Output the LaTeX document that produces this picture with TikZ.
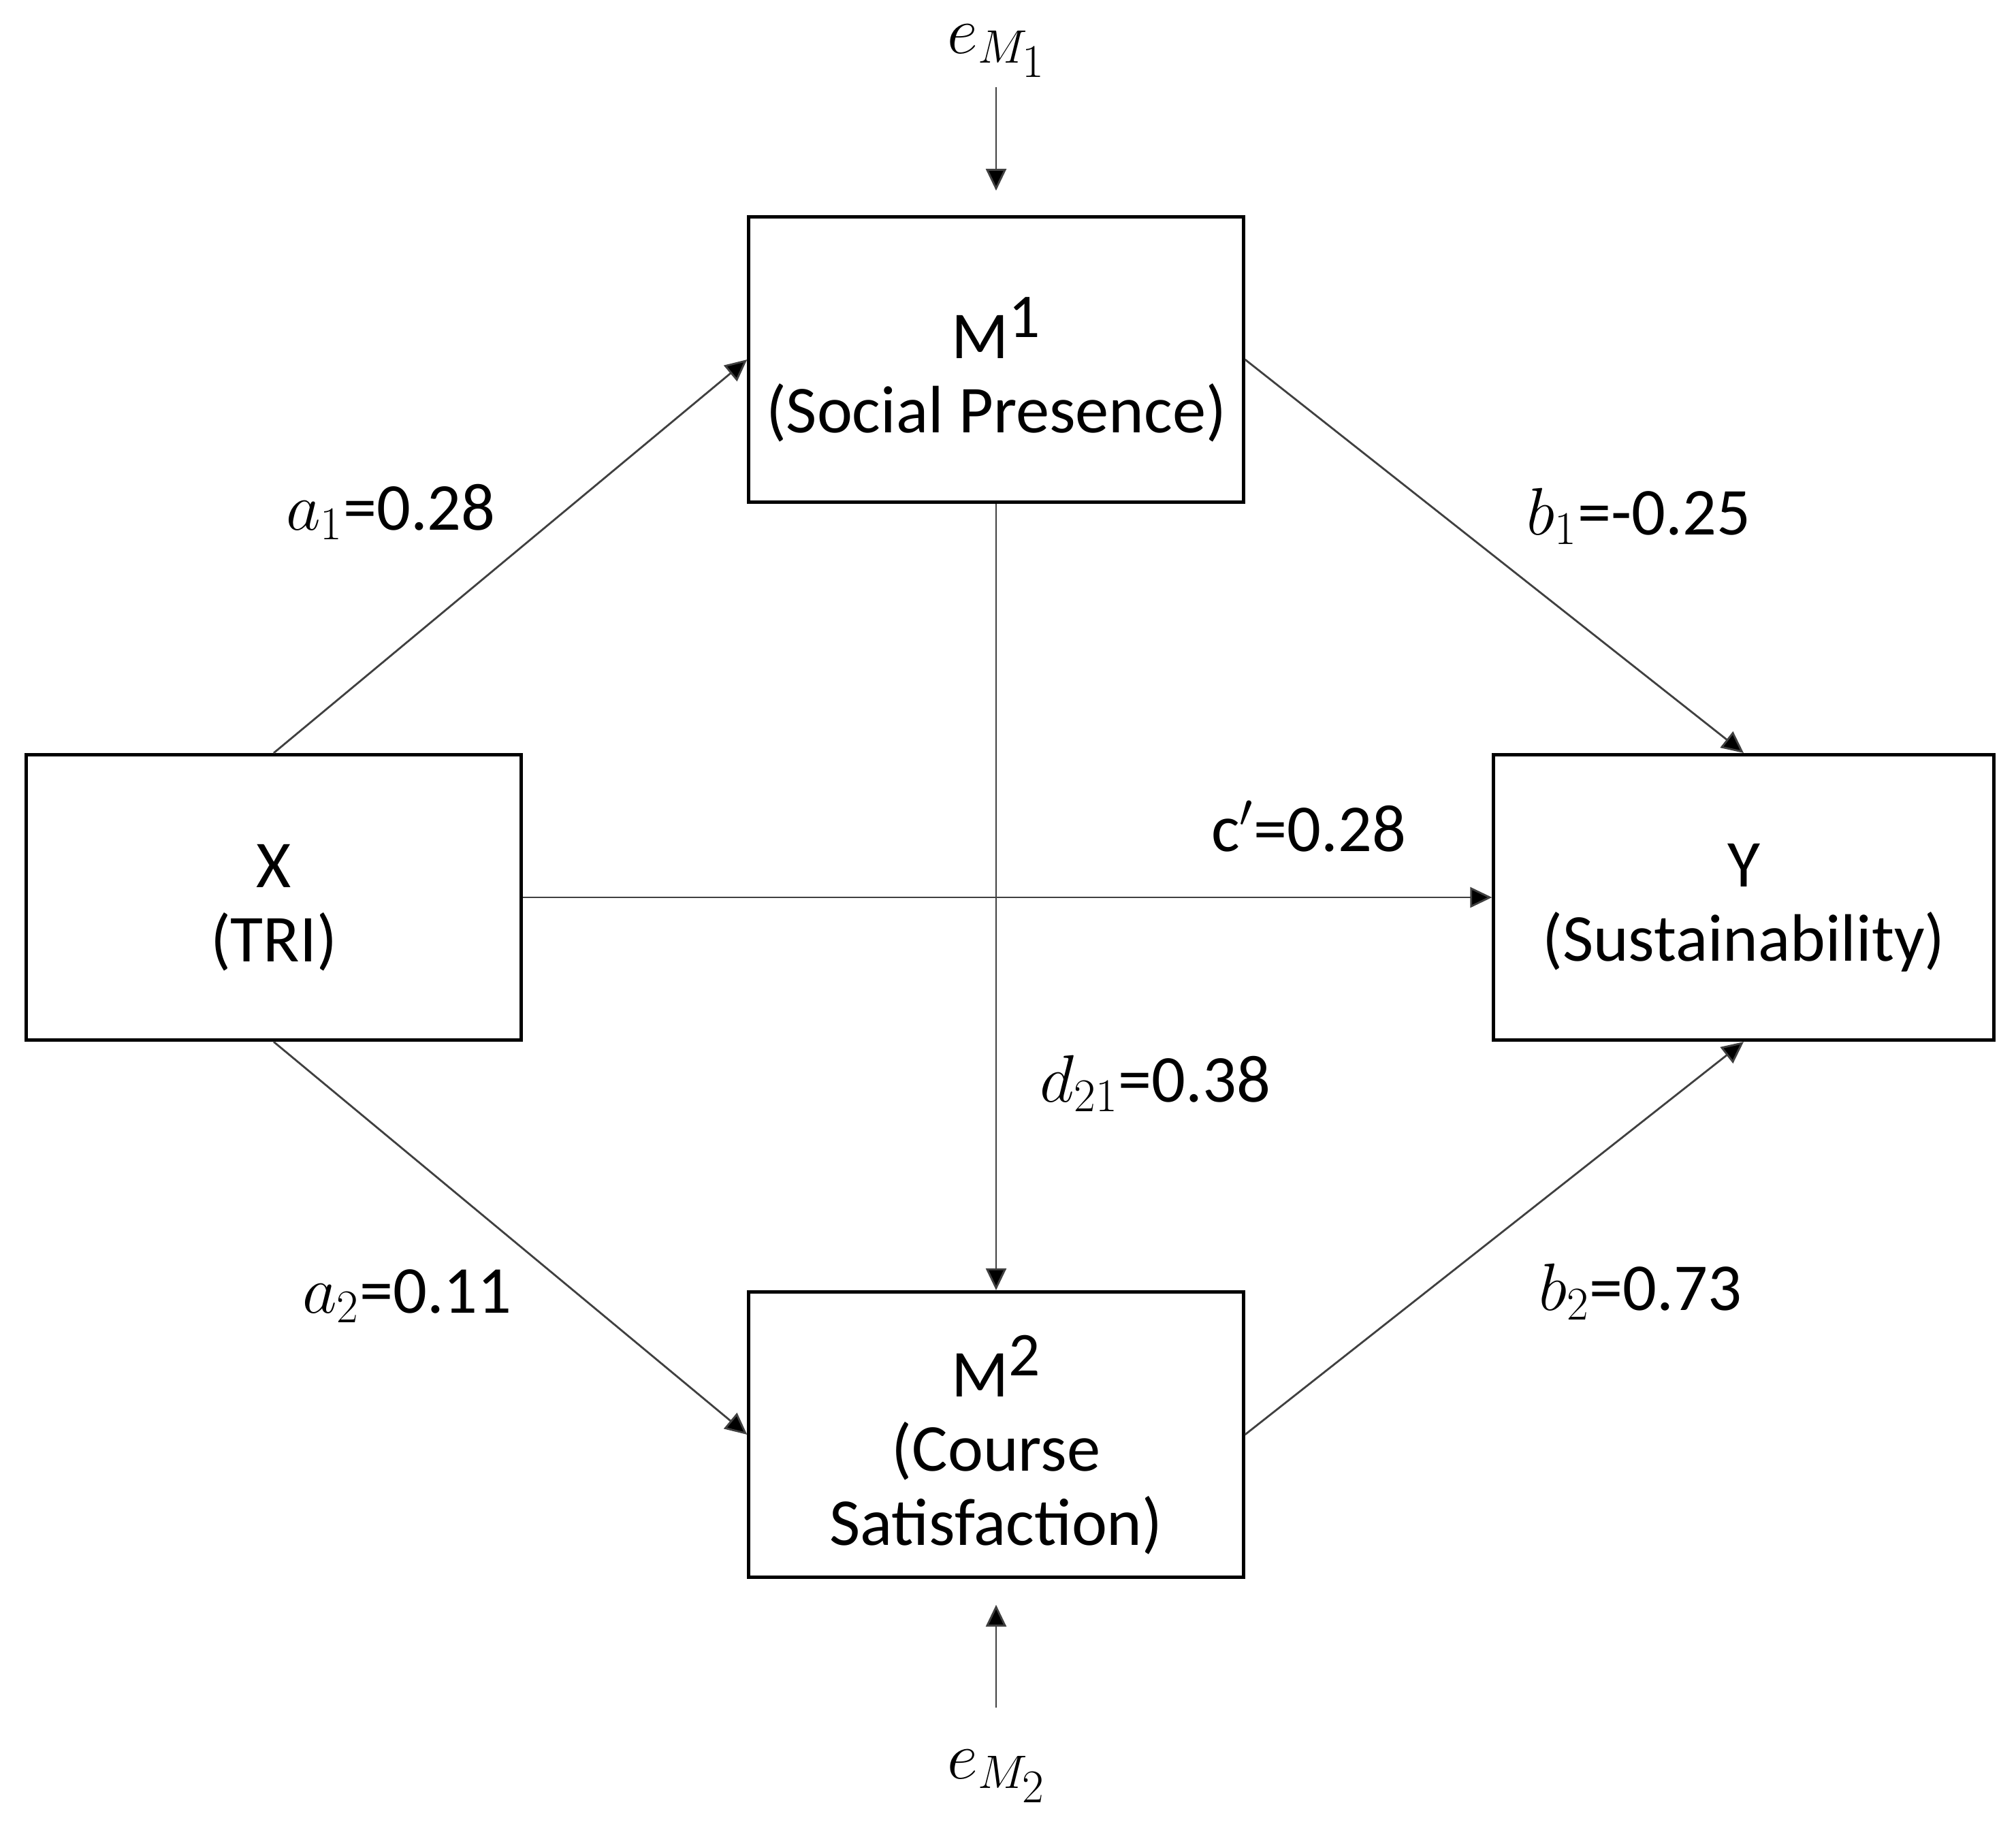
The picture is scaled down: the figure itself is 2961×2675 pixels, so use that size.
\RequirePackage{fix-cm}
\documentclass[tikz,border=0pt]{standalone}
\usepackage{fontspec}
\setmainfont{Carlito}
\usetikzlibrary{arrows.meta}
\newcommand{\supnum}[1]{\raisebox{9pt}{\fontsize{26}{26}\selectfont #1}}
\begin{document}
\begin{tikzpicture}[x=0.01cm,y=-0.01cm,
  txt/.style={font=\fontsize{28}{31}\selectfont},
  box/.style={draw=black, line width=1.4pt, minimum width=7.26cm, minimum height=4.19cm, inner sep=0pt},
  boxtext/.style={align=center, inner sep=0pt, txt, yshift=-0.15cm},
  lbl/.style={anchor=base, inner sep=0pt, txt},
  conn/.style={draw=black!75, line width=0.8pt, -{Triangle[length=0.32cm,width=0.3cm,fill=black]}}]
\useasboundingbox (0,0) rectangle (2961,2675);
\node[box] (M1) at (1463,528) {};
\node[box] (X) at (402,1318) {};
\node[box, minimum width=7.34cm] (Y) at (2561,1318) {};
\node[box] (M2) at (1463,2107) {};
\node[boxtext] (M1t) at (M1.center) {M\supnum{1}\\(Social Presence)};
\node[boxtext] (Xt) at (X.center) {X\\(TRI)};
\node[boxtext] (Yt) at (Y.center) {Y\\(Sustainability)};
\node[boxtext] (M2t) at (M2.center) {M\supnum{2}\\(Course\\Satisfaction)};
\node[lbl] (eM1) at (1464,78) {$e_{M_{\scriptstyle 1}}$};
\node[lbl] (eM2) at (1464,2612) {$e_{M_{\scriptstyle 2}}$};
\coordinate (e1s) at (1463,128);
\coordinate (e1e) at (1463,280);
\coordinate (e2s) at (1463,2508);
\coordinate (e2e) at (1463,2357);
\draw[conn] (e1s) -- (e1e);
\draw[conn] (e2s) -- (e2e);
\draw[conn] (X.north) -- (M1.west);
\draw[conn] (M1.east) -- (Y.north);
\draw[conn] (X.east) -- (Y.west);
\draw[conn] (M1.south) -- (M2.north);
\draw[conn] (X.south) -- (M2.west);
\draw[conn] (M2.east) -- (Y.south);
\node[lbl] (la1) at (574,778) {$a_1$=0.28};
\node[lbl] (lb1) at (2407,785) {$b_1$=-0.25};
\node[lbl] (lc) at (1922,1250) {c$'$=0.28};
\node[lbl] (ld) at (1697,1618) {$d_{21}$=0.38};
\node[lbl] (la2) at (598,1928) {$a_2$=0.11};
\node[lbl] (lb2) at (2409,1924) {$b_2$=0.73};
\end{tikzpicture}
\end{document}
